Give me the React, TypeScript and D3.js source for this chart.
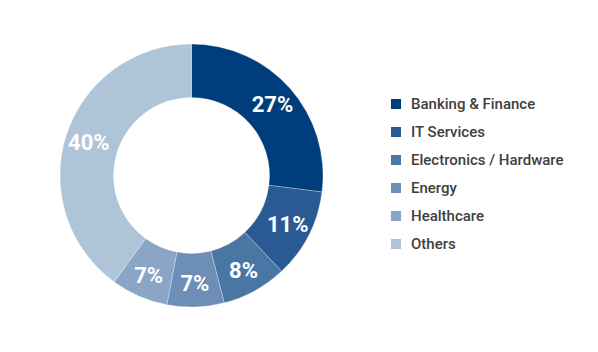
import React from "react";
import * as d3 from "d3";

const categories = ["Banking & Finance", "IT Services", "Electronics / Hardware", "Energy", "Healthcare", "Others"];
const values = [27, 11, 8, 7, 7, 40];
const colors = ["#003d7c", "#295a91", "#4a76a4", "#6d8eb6", "#8aa5c5", "#b0c4d9"];

const W = 598;
const H = 352;
const cx = 191.5;
const cy = 175.5;
const outerR = 131.5;
const innerR = 78;

export default function App() {
  const pie = d3.pie<number>().sort(null).value((d) => d)(values);
  const arc = d3.arc<d3.PieArcDatum<number>>().innerRadius(innerR).outerRadius(outerR);
  const labelArc = d3.arc<d3.PieArcDatum<number>>().innerRadius(108).outerRadius(108);
  const legendY = d3.scaleBand<number>().domain(d3.range(categories.length)).range([90, 258]);
  return (
    <svg width={W} height={H} style={{ position: "absolute", left: 0, top: 0, fontFamily: "Roboto, sans-serif" }}>
      <rect width={W} height={H} fill="#fff" />
      <g transform={`translate(${cx},${cy})`}>
        {pie.map((p, i) => (
          <path key={i} d={arc(p) || ""} fill={colors[i]} stroke="#ffffff" strokeOpacity={0.35} strokeWidth={0.8} />
        ))}
        {pie.map((p, i) => {
          const [x, y] = labelArc.centroid(p);
          return (
            <text key={i} x={x} y={y} dy="0.36em" textAnchor="middle" fill="#fff" fontSize={22} fontWeight={700}>
              {values[i]}%
            </text>
          );
        })}
      </g>
      {categories.map((c, i) => {
        const y = (legendY(i) || 0) + legendY.bandwidth() / 2;
        return (
          <g key={c}>
            <rect x={391} y={y - 5} width={10} height={10} fill={colors[i]} />
            <text x={411} y={y} dy="0.35em" fill="#404040" fontSize={15} fontWeight={500}>
              {c}
            </text>
          </g>
        );
      })}
    </svg>
  );
}
